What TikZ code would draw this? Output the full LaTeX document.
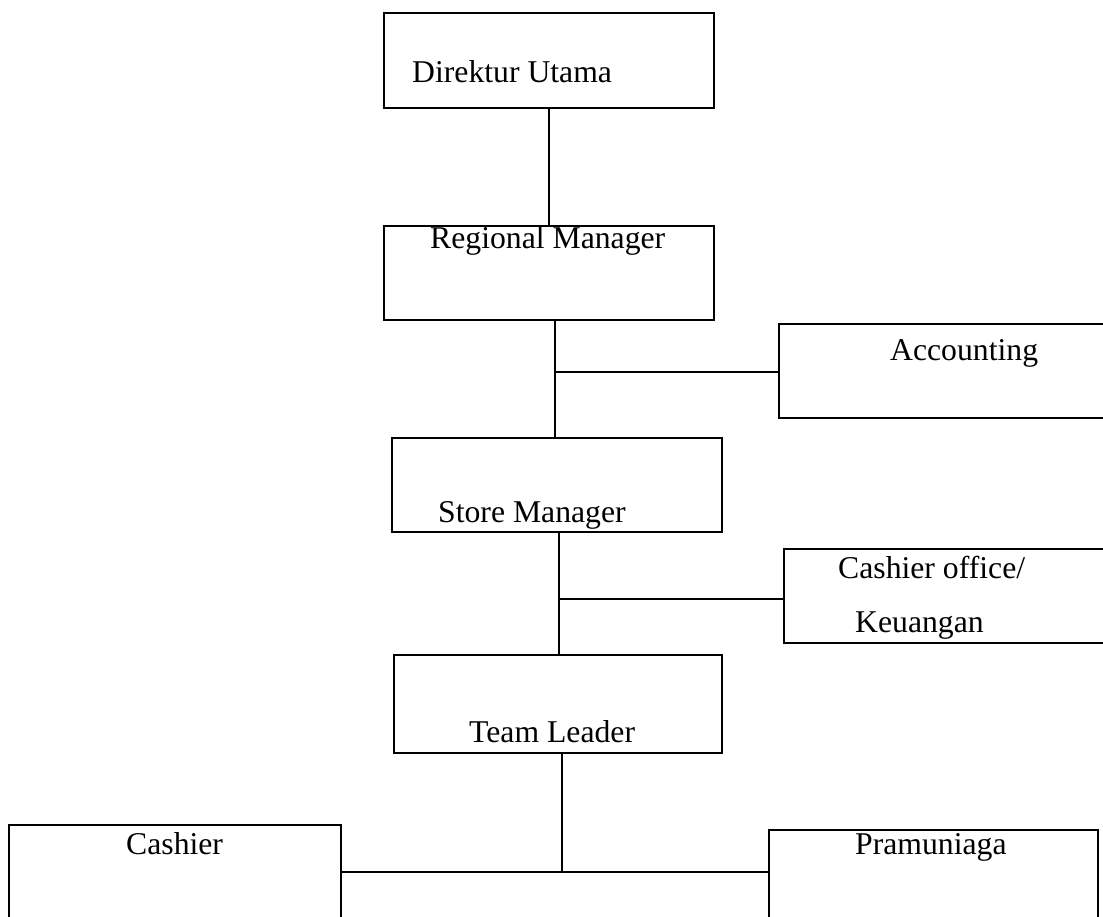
\documentclass[tikz,border=0pt]{standalone}
\usepackage{fontspec}
\setmainfont{Liberation Serif}
\tikzset{
  orgbox/.style={draw=black, line width=1.8pt, rectangle, inner sep=0pt, anchor=north west},
  lbl/.style={anchor=base west, inner sep=0pt, font=\fontsize{31.7}{38}\selectfont},
  conn/.style={draw=black, line width=1.6pt}
}
\begin{document}
\begin{tikzpicture}[x=1pt, y=-1pt]
\useasboundingbox (0,0) rectangle (1103,916);
% boxes
\node[orgbox, minimum width=330pt, minimum height=95pt] (dir) at (383,12) {};
\node[orgbox, minimum width=330pt, minimum height=94pt] (reg) at (383,225) {};
\node[orgbox, minimum width=340pt, minimum height=94pt] (acc) at (778,323) {};
\node[orgbox, minimum width=330pt, minimum height=94pt] (store) at (391,437) {};
\node[orgbox, minimum width=340pt, minimum height=94pt] (cof) at (783,548) {};
\node[orgbox, minimum width=328pt, minimum height=98pt] (team) at (393,654) {};
\node[orgbox, minimum width=332pt, minimum height=110pt] (cash) at (8,824) {};
\node[orgbox, minimum width=329pt, minimum height=110pt] (pram) at (768,829) {};
% labels
\node[lbl] (tdir) at (412,82) {Direktur Utama};
\node[lbl] (treg) at (430,248) {Regional Manager};
\node[lbl] (tacc) at (890,360) {Accounting};
\node[lbl] (tstore) at (438,522) {Store Manager};
\node[lbl] (tcof1) at (838,578) {Cashier office/};
\node[lbl] (tcof2) at (855,632) {Keuangan};
\node[lbl] (tteam) at (469,742) {Team Leader};
\node[lbl] (tcash) at (126,854) {Cashier};
\node[lbl] (tpram) at (855,854) {Pramuniaga};
% junctions
\coordinate (j1) at (555,372);
\coordinate (j2) at (559,599);
\coordinate (j3) at (562,872);
% connectors
\draw[conn] (dir.south) -- (reg.north);
\draw[conn] (reg.south -| j1) -- (store.north -| j1);
\draw[conn] (j1) -- (j1 -| acc.west);
\draw[conn] (store.south -| j2) -- (team.north -| j2);
\draw[conn] (j2) -- (j2 -| cof.west);
\draw[conn] (team.south -| j3) -- (j3);
\draw[conn] (j3 -| cash.east) -- (j3 -| pram.west);
\end{tikzpicture}
\end{document}
